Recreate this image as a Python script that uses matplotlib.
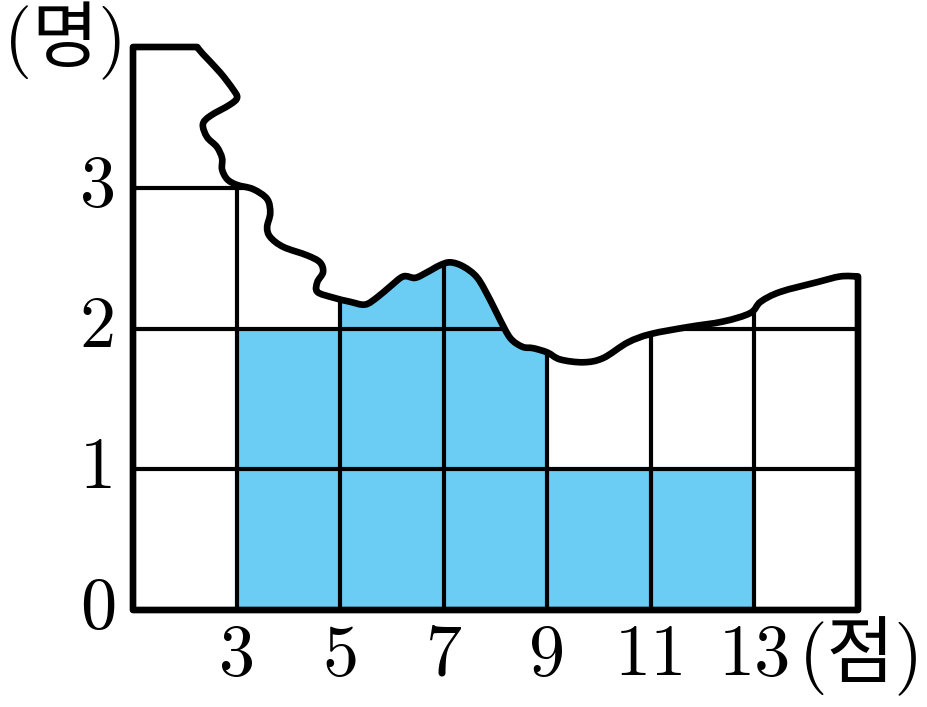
import matplotlib.pyplot as plt
from matplotlib.path import Path
from matplotlib.patches import PathPatch

plt.rcParams['font.family'] = ['cmr10', 'Noto Sans CJK KR']

# histogram (score classes, number of students); the 5-7 and 7-9 bars are torn off
bin_edges = [3, 5, 7, 9, 11, 13]
counts = [2, 4, 4, 1, 1]
y_ticks = [0, 1, 2, 3]
x_labels = ['3', '5', '7', '9', '11', '13']

# torn edge of the paper, from the end of the top line to the right edge
tear_x = [2.24, 2.35, 2.68, 2.93, 3.01, 2.87, 2.49, 2.35, 2.43, 2.62, 2.72, 2.72,
          2.82, 3.01, 3.32, 3.59, 3.65, 3.59, 3.65, 3.90, 4.36, 4.61, 4.67, 4.56,
          4.56, 4.86, 5.19, 5.48, 5.71, 5.97, 6.22, 6.45, 6.68, 6.93, 7.13, 7.38,
          7.65, 7.90, 8.09, 8.29, 8.52, 8.73, 9.00, 9.25, 9.70, 10.08, 10.55, 10.99,
          11.71, 12.40, 12.92, 13.12, 13.50, 14.22, 14.66, 15.0]
tear_y = [4.0, 3.95, 3.82, 3.70, 3.64, 3.59, 3.51, 3.45, 3.36, 3.29, 3.21, 3.13,
          3.06, 3.02, 2.99, 2.92, 2.82, 2.72, 2.65, 2.58, 2.52, 2.47, 2.40, 2.33,
          2.26, 2.22, 2.19, 2.17, 2.22, 2.30, 2.37, 2.36, 2.40, 2.45, 2.47, 2.44,
          2.36, 2.20, 2.06, 1.93, 1.87, 1.86, 1.83, 1.78, 1.76, 1.79, 1.90, 1.96,
          2.01, 2.05, 2.11, 2.19, 2.26, 2.33, 2.37, 2.37]

blue = '#6bcdf4'


def smooth_segments(pts):
    # catmull-rom through the points, written as cubic bezier pieces
    verts, codes = [], []
    n = len(pts)
    for i in range(n - 1):
        p0 = pts[max(i - 1, 0)]
        p1 = pts[i]
        p2 = pts[i + 1]
        p3 = pts[min(i + 2, n - 1)]
        c1 = (p1[0] + (p2[0] - p0[0]) / 6, p1[1] + (p2[1] - p0[1]) / 6)
        c2 = (p2[0] - (p3[0] - p1[0]) / 6, p2[1] - (p3[1] - p1[1]) / 6)
        verts += [c1, c2, p2]
        codes += [Path.CURVE4] * 3
    return verts, codes


fig = plt.figure(figsize=(9.28, 7.07), dpi=100)
ax = fig.add_axes([133 / 928, 97 / 707, 725 / 928, 563 / 707])
ax.set_xlim(1, 15)
ax.set_ylim(0, 4)
ax.axis('off')

tear = list(zip(tear_x, tear_y))[::-1]
verts = [(1, 0), (15, 0), tear[0]]
codes = [Path.MOVETO, Path.LINETO, Path.LINETO]
v, c = smooth_segments(tear)
verts += v + [(1, 4), (1, 0)]
codes += c + [Path.LINETO, Path.CLOSEPOLY]
paper = Path(verts, codes)

clip = PathPatch(paper, transform=ax.transData)

bars = ax.bar(bin_edges[:-1], counts, width=2, align='edge', color=blue,
              edgecolor='none', zorder=1)
for b in bars:
    b.set_clip_path(clip)

hl = ax.hlines(y_ticks[1:], 1, 15, color='black', lw=3.0, zorder=2)
hl.set_clip_path(clip)
vl = ax.vlines(bin_edges, 0, 4, color='black', lw=3.0, zorder=2)
vl.set_clip_path(clip)

outline = PathPatch(paper, facecolor='none', edgecolor='black', lw=4.8,
                    joinstyle='round', capstyle='round', clip_on=False, zorder=3)
ax.add_patch(outline)

for x, lab in zip(bin_edges, x_labels):
    ax.text(x, -0.33, lab, ha='center', va='center', fontsize=52)
for y in y_ticks:
    ax.text(0.32, y, str(y), ha='center', va='center', fontsize=52)

ax.text(13.85, -0.33, '(점)', ha='left', va='center', fontsize=53)
ax.text(-0.31, 4.04, '(명)', ha='center', va='center', fontsize=52)

fig.savefig('out.png', dpi=100)
